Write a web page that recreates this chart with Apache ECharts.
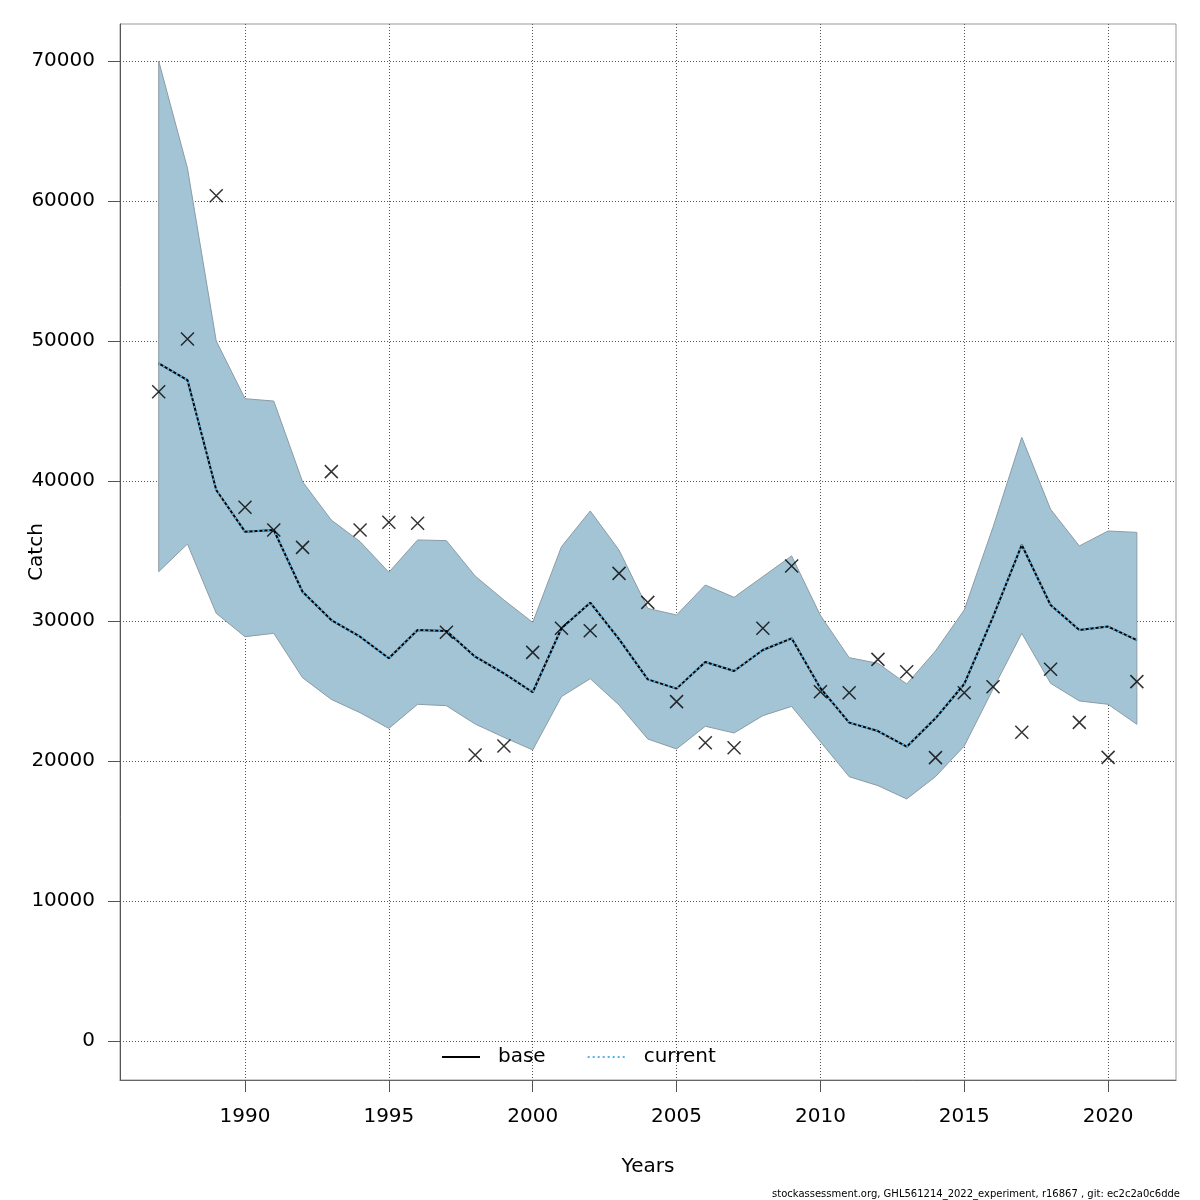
<!DOCTYPE html>
<html>
<head>
<meta charset="utf-8">
<script src="https://cdn.jsdelivr.net/npm/echarts@6/dist/echarts.min.js"></script>
<style>
  html, body { margin: 0; padding: 0; background: #fff; }
  #chart { width: 1200px; height: 1200px; }
</style>
</head>
<body>
<div id="chart"></div>
<script>
var years = [1987, 1988, 1989, 1990, 1991, 1992, 1993, 1994, 1995, 1996,
	1997, 1998, 1999, 2000, 2001, 2002, 2003, 2004, 2005, 2006,
	2007, 2008, 2009, 2010, 2011, 2012, 2013, 2014, 2015, 2016,
	2017, 2018, 2019, 2020, 2021];
// upper / lower confidence bounds of the fitted catch
var upperCI = [70000, 62340, 50000, 45880, 45710, 39950, 37210, 35670, 33480, 35790,
	35740, 33210, 31500, 29900, 35310, 37860, 35070, 30900, 30430, 32570,
	31690, 33170, 34650, 30400, 27380, 26980, 25500, 27860, 30790, 36700,
	43120, 37980, 35360, 36430, 36330];
var lowerCI = [33520, 35500, 30550, 28880, 29120, 25950, 24400, 23450, 22330, 24050,
	23950, 22640, 21690, 20790, 24600, 25880, 24000, 21570, 20860, 22480,
	22000, 23240, 23900, 21380, 18880, 18240, 17290, 18880, 21070, 25140,
	29120, 25550, 24290, 24050, 22620];
// fitted catch (base and current coincide)
var fitted = [48400, 47210, 39360, 36380, 36500, 32090, 30070, 28880, 27340, 29360,
	29290, 27450, 26260, 24910, 29480, 31310, 28700, 25830, 25170, 27070,
	26430, 27930, 28760, 25200, 22740, 22140, 21020, 23050, 25500, 30300,
	35430, 31140, 29360, 29600, 28640];
// observed catch (crosses)
var observed = [46380, 50140, 60380, 38120, 36500, 35260, 40670, 36500, 37050, 36980,
	29190, 20430, 21070, 27760, 29480, 29310, 33400, 31330, 24240, 21310,
	20950, 29480, 33930, 24950, 24880, 27260, 26380, 20240, 24880, 25310,
	22050, 26550, 22760, 20260, 25670];
var xTicks = [1990, 1995, 2000, 2005, 2010, 2015, 2020];
var yTicks = [0, 10000, 20000, 30000, 40000, 50000, 60000, 70000];

var font = 'DejaVu Sans';
var chart = echarts.init(document.getElementById('chart'));

var pair = function (arr) {
	return years.map(function (y, i) { return [y, arr[i]]; });
};

var option = {
	animation: false,
	backgroundColor: '#fff',
	textStyle: { fontFamily: font },
	grid: {
		left: 120, right: 24, top: 24, bottom: 120,
		containLabel: false,
		outerBoundsMode: 'none',
		show: true,
		borderColor: '#999',
		borderWidth: 1
	},
	legend: {
		data: ['base', 'current'],
		left: 441,
		top: 1047,
		padding: 0,
		itemWidth: 38,
		itemHeight: 14,
		itemGap: 41,
		itemStyle: { opacity: 0 },
		textStyle: { fontFamily: font, fontSize: 20, color: '#000', padding: [0, 8, 0, 13] },
		selectedMode: false
	},
	xAxis: {
		type: 'value',
		min: 1985.655,
		max: 2022.36,
		name: 'Years',
		nameLocation: 'middle',
		nameGap: 77,
		nameMoveOverlap: false,
		nameTextStyle: { fontFamily: font, fontSize: 20, color: '#000' },
		axisLine: { show: true, onZero: false, lineStyle: { color: '#666', width: 1 } },
		axisTick: { show: true, length: 12, customValues: xTicks, lineStyle: { color: '#555' } },
		axisLabel: {
			customValues: xTicks, margin: 27, fontFamily: font, fontSize: 20, color: '#000',
			formatter: function (v) { return String(v); }
		},
		splitLine: { show: true, lineStyle: { color: '#555', type: [1, 2], width: 1 } }
	},
	yAxis: {
		type: 'value',
		min: -2786,
		max: 72643,
		name: 'Catch',
		nameLocation: 'middle',
		nameGap: 73,
		nameMoveOverlap: false,
		nameTextStyle: { fontFamily: font, fontSize: 20, color: '#000' },
		axisLine: { show: true, onZero: false, lineStyle: { color: '#555', width: 1 } },
		axisTick: { show: true, length: 12, customValues: yTicks, lineStyle: { color: '#555' } },
		axisLabel: {
			customValues: yTicks, margin: 25, fontFamily: font, fontSize: 20, color: '#000',
			formatter: function (v) { return String(v); }
		},
		splitLine: { show: true, lineStyle: { color: '#555', type: [1, 2], width: 1 } }
	},
	graphic: [{
		type: 'text',
		right: 20,
		top: 1189,
		style: {
			text: 'stockassessment.org, GHL561214_2022_experiment, r16867 , git: ec2c2a0c6dde',
			fontFamily: font,
			fontSize: 10,
			fill: '#000'
		}
	}],
	series: [
		{
			// confidence band drawn as one polygon
			type: 'custom',
			name: 'ci',
			silent: true,
			z: 1,
			data: years.map(function (y, i) { return [y, lowerCI[i], upperCI[i]]; }),
			encode: { x: 0, y: [1, 2] },
			renderItem: function (params, api) {
				if (params.dataIndex !== 0) return;
				var pts = [];
				for (var i = 0; i < years.length; i++) pts.push(api.coord([years[i], upperCI[i]]));
				for (var j = years.length - 1; j >= 0; j--) pts.push(api.coord([years[j], lowerCI[j]]));
				return {
					type: 'polygon',
					shape: { points: pts },
					style: { fill: '#a3c4d5', stroke: '#8c9ca6', lineWidth: 1 }
				};
			}
		},
		{
			name: 'base',
			type: 'line',
			z: 3,
			symbol: 'none',
			data: pair(fitted),
			lineStyle: { color: '#000', width: 2 }
		},
		{
			name: 'current',
			type: 'line',
			z: 4,
			symbol: 'none',
			data: pair(fitted),
			lineStyle: { color: '#56b4e9', width: 2, type: [2, 3] }
		},
		{
			name: 'observed',
			type: 'scatter',
			z: 5,
			symbol: 'path://M0,0L10,10M10,0L0,10',
			symbolSize: 13,
			data: pair(observed),
			itemStyle: { color: 'rgba(0,0,0,0)', borderColor: '#000', borderWidth: 1.5 }
		}
	]
};

chart.setOption(option);
</script>
</body>
</html>
